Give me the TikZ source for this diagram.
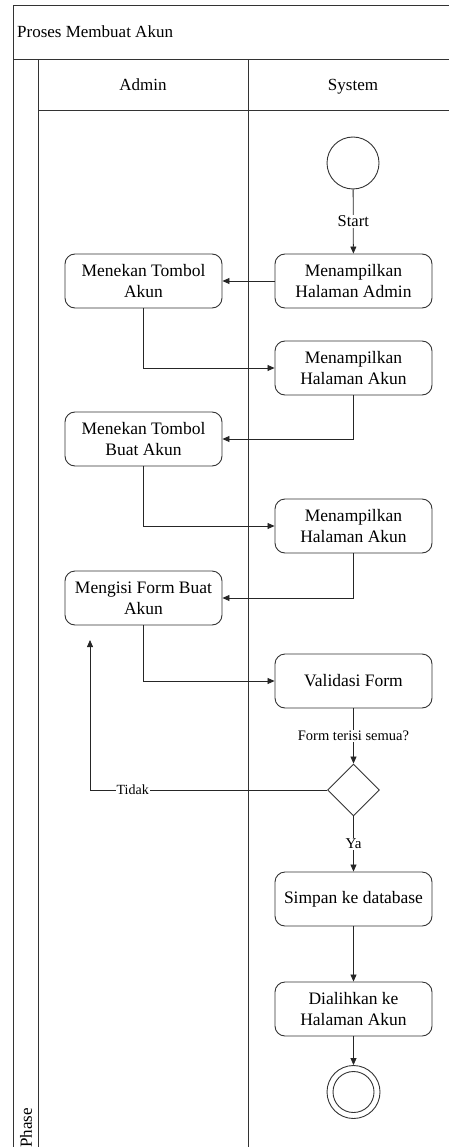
\documentclass[tikz,border=0pt]{standalone}
\usepackage{fontspec}
\setmainfont{Liberation Serif}
\usetikzlibrary{shapes.geometric,arrows.meta}
\begin{document}
\begin{tikzpicture}[x=1pt,y=-1pt,
  frame/.style={draw=black!80, line width=1pt},
  act/.style={draw=black!80, line width=0.9pt, rounded corners=10pt,
    minimum width=157pt, minimum height=54pt, align=center, inner sep=2pt,
    font=\fontsize{17.5}{21}\selectfont},
  hdr/.style={inner sep=0pt, anchor=base, font=\fontsize{17}{20}\selectfont},
  flow/.style={draw=black!85, line width=0.8pt, -{Triangle[length=7pt,width=6pt]}},
  lbl/.style={fill=white, inner sep=1pt, font=\fontsize{15}{17}\selectfont},
  startnode/.style={circle, draw=black!80, line width=0.9pt, minimum size=52pt, inner sep=0pt},
  decision/.style={diamond, draw=black!80, line width=0.9pt, minimum width=52pt,
    minimum height=52pt, inner sep=0pt},
]
\useasboundingbox (0,0) rectangle (448,1147);

% swimlane frame
\draw[frame] (13,1150) -- (13,6) -- (450,6);
\draw[frame] (13,60) -- (450,60);
\draw[frame] (38,60) -- (38,1150);
\draw[frame] (248,60) -- (248,1150);
\draw[frame] (38,111) -- (450,111);

% titles
\node[hdr, anchor=base west] (title) at (17,38) {Proses Membuat Akun};
\node[hdr] (admin) at (143,91) {Admin};
\node[hdr] (system) at (353,91) {System};
\node[hdr, rotate=90, anchor=west] (phase) at (26,1148) {Phase};

% activities
\node[startnode] (start) at (353,163) {};
\node[act] (a1) at (353.5,281) {Menampilkan\\Halaman Admin};
\node[act] (u1) at (143.5,281) {Menekan Tombol\\Akun};
\node[act] (a2) at (353.5,368) {Menampilkan\\Halaman Akun};
\node[act] (u2) at (143.5,439) {Menekan Tombol\\Buat Akun};
\node[act] (a3) at (353.5,526) {Menampilkan\\Halaman Akun};
\node[act] (u3) at (143.5,598) {Mengisi Form Buat\\Akun};
\node[act] (val) at (353.5,681) {Validasi Form};
\node[decision] (dec) at (353.5,790) {};
\node[act] (save) at (353.5,899) {Simpan ke database};
\node[act] (redir) at (353.5,1009) {Dialihkan ke\\Halaman Akun};
\node[startnode, minimum size=53pt] (endo) at (353.5,1092) {};
\node[startnode, minimum size=41pt] (endi) at (353.5,1092) {};
\coordinate (back) at (90,640);

% flows
\draw[flow] (start) -- node[lbl, font=\fontsize{16.5}{18}\selectfont]{Start} (a1);
\draw[flow] (a1) -- (u1);
\draw[flow] (u1.south) |- (a2.west);
\draw[flow] (a2.south) |- (u2.east);
\draw[flow] (u2.south) |- (a3.west);
\draw[flow] (a3.south) |- (u3.east);
\draw[flow] (u3.south) |- (val.west);
\draw[flow] (val) -- node[lbl, font=\fontsize{14.5}{16}\selectfont]{Form terisi semua?} (dec);
\draw[flow] (dec.west) -| node[lbl, pos=0.41, font=\fontsize{14}{16}\selectfont]{Tidak} (back);
\draw[flow] (dec) -- node[lbl]{Ya} (save);
\draw[flow] (save) -- (redir);
\draw[flow] (redir) -- (endo);
\end{tikzpicture}
\end{document}
